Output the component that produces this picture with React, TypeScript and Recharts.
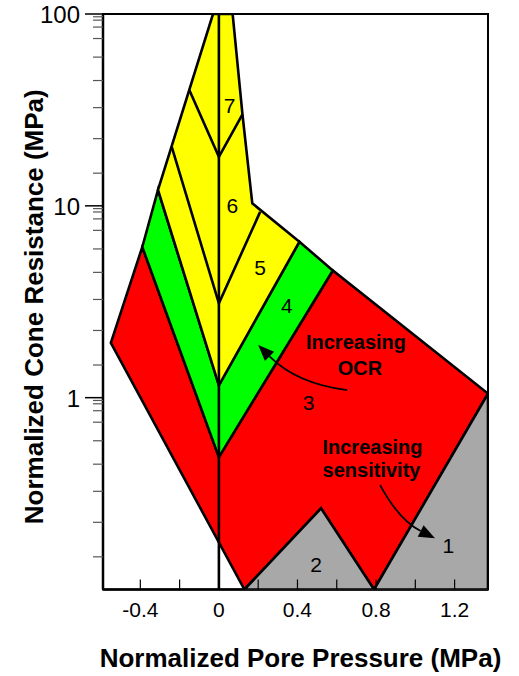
import { ScatterChart, Scatter, XAxis, YAxis, Label, ReferenceArea } from 'recharts';

const FONT = '"Liberation Sans", Arial, Helvetica, sans-serif';

const xTitle = 'Normalized Pore Pressure (MPa)';
const yTitle = 'Normalized Cone Resistance (MPa)';

const xDomain = [-0.59, 1.37];
const yDomain = [0.1, 100];
const xTicks = [-0.4, -0.2, 0, 0.2, 0.4, 0.6, 0.8, 1, 1.2];
const xTickLabels = ['-0.4', '0', '0.4', '0.8', '1.2'];
const yMajorTicks = [1, 10, 100];
const yMinorTicks = [
  0.148, 0.224, 0.325, 0.45, 0.596, 0.745, 0.855, 0.929, 0.967,
  1.48, 2.24, 3.25, 4.5, 5.96, 7.45, 8.55, 9.29, 9.67,
  14.8, 22.4, 32.5, 45, 59.6, 74.5, 85.5, 92.9, 96.7,
];

// zone outlines (x = pore pressure, y = cone resistance)
const zone3 = [
  { x: -0.55, y: 1.93 }, { x: -0.39, y: 6.1 }, { x: 0, y: 0.49 }, { x: 0.58, y: 4.6 },
  { x: 1.37, y: 1.05 }, { x: 0.79, y: 0.1 }, { x: 0.52, y: 0.265 }, { x: 0.13, y: 0.1 },
];
const zone4 = [
  { x: -0.39, y: 6.1 }, { x: -0.31, y: 12.1 }, { x: 0, y: 1.16 },
  { x: 0.41, y: 6.5 }, { x: 0.58, y: 4.6 }, { x: 0, y: 0.49 },
];
const zone567 = [
  { x: -0.31, y: 12.1 }, { x: -0.03, y: 100 }, { x: 0.07, y: 100 }, { x: 0.12, y: 30 },
  { x: 0.17, y: 10.3 }, { x: 0.41, y: 6.5 }, { x: 0, y: 1.16 },
];
const zone1 = [{ x: 0.79, y: 0.1 }, { x: 1.37, y: 1.05 }, { x: 1.37, y: 0.1 }];
const zone2 = [{ x: 0.13, y: 0.1 }, { x: 0.52, y: 0.265 }, { x: 0.79, y: 0.1 }];

const border56 = [{ x: -0.24, y: 20.3 }, { x: 0, y: 3.1 }, { x: 0.21, y: 9.3 }];
const border67 = [{ x: -0.15, y: 40 }, { x: 0, y: 18 }, { x: 0.12, y: 30 }];
const centreLine = [{ x: 0, y: 0.1 }, { x: 0, y: 100 }];

const zoneLabels = [
  { x: 0.055, y: 30.5, text: '7' },
  { x: 0.068, y: 9.18, text: '6' },
  { x: 0.21, y: 4.36, text: '5' },
  { x: 0.346, y: 2.76, text: '4' },
  { x: 0.457, y: 0.863, text: '3' },
  { x: 0.495, y: 0.1238, text: '2' },
  { x: 1.168, y: 0.1545, text: '1' },
];
const noteLabels = [
  { x: 0.698, y: 1.794, text: 'Increasing' },
  { x: 0.718, y: 1.313, text: 'OCR' },
  { x: 0.782, y: 0.507, text: 'Increasing' },
  { x: 0.777, y: 0.384, text: 'sensitivity' },
];

// start, control, tip
const ocrArrow = [{ x: 0.653, y: 1.096 }, { x: 0.398, y: 1.18 }, { x: 0.2, y: 1.88 }];
const sensArrow = [{ x: 0.82, y: 0.351 }, { x: 0.917, y: 0.23 }, { x: 1.1, y: 0.185 }];

const noDot = () => <g />;

const polygonLine = (fill: string) => (props: any) => {
  const pts = props.points as { x: number; y: number }[];
  const d = pts.map((p, i) => `${i ? 'L' : 'M'}${p.x},${p.y}`).join('') + 'Z';
  return <path d={d} fill={fill} stroke="#000" strokeWidth={2.6} />;
};

const polyline = (props: any) => {
  const pts = props.points as { x: number; y: number }[];
  const d = pts.map((p, i) => `${i ? 'L' : 'M'}${p.x},${p.y}`).join('');
  return <path d={d} fill="none" stroke="#000" strokeWidth={2.6} />;
};

const arrowLine = (props: any) => {
  const [a, c, b] = props.points as { x: number; y: number }[];
  const dx = b.x - c.x;
  const dy = b.y - c.y;
  const len = Math.hypot(dx, dy) || 1;
  const ux = dx / len;
  const uy = dy / len;
  const head = 16;
  const half = 6.5;
  const bx = b.x - ux * head;
  const by = b.y - uy * head;
  return (
    <g>
      <path d={`M${a.x},${a.y}Q${c.x},${c.y} ${bx},${by}`} fill="none" stroke="#000" strokeWidth={1.8} />
      <path d={`M${b.x},${b.y}L${bx - uy * half},${by + ux * half}L${bx + uy * half},${by - ux * half}Z`} fill="#000" />
    </g>
  );
};

const textShape = (bold: boolean) => (props: any) => (
  <text x={props.cx} y={props.cy} textAnchor="middle" fontSize={bold ? 20 : 21} fontWeight={bold ? 'bold' : 'normal'}
    fontFamily={FONT} fill="#000">
    {props.payload.text}
  </text>
);

function XTick({ x, y, payload }: any) {
  const label = xTickLabels.find(l => Math.abs(Number(l) - payload.value) < 1e-6);
  return (
    <g>
      <line x1={x} x2={x} y1={y} y2={y - 10} stroke="#000" strokeWidth={1.2} />
      {label !== undefined && (
        <text x={x} y={y + 27} textAnchor="middle" fontSize={21} fontFamily={FONT} fill="#000">{label}</text>
      )}
    </g>
  );
}

function YTick({ x, y, payload }: any) {
  const major = yMajorTicks.includes(payload.value);
  return (
    <g>
      <line x1={x - (major ? 18 : 10)} x2={x} y1={y} y2={y} stroke={major ? '#000' : '#555'} strokeWidth={major ? 1.5 : 1.2} />
      {major && (
        <text x={x - 23} y={y + 9} textAnchor="end" fontSize={24} fontFamily={FONT} fill="#000">{payload.value}</text>
      )}
    </g>
  );
}

const renderXTitle = (props: any) => {
  const vb = props.viewBox;
  return (
    <text x={vb.x + vb.width / 2 + 5} y={vb.y + 77.5} textAnchor="middle" fontSize={26} fontWeight="bold" fontFamily={FONT} fill="#000">
      {xTitle}
    </text>
  );
};

const renderYTitle = (props: any) => {
  const vb = props.viewBox;
  const cx = 43;
  const cy = vb.y + vb.height / 2 + 5;
  return (
    <text x={cx} y={cy} transform={`rotate(-90, ${cx}, ${cy})`} textAnchor="middle" fontSize={26} fontWeight="bold" fontFamily={FONT} fill="#000">
      {yTitle}
    </text>
  );
};

export default function App() {
  return (
    <div style={{ position: 'absolute', left: 0, top: 0, background: '#fff' }}>
      <ScatterChart width={519} height={676} margin={{ top: 14, right: 31, bottom: 0, left: 0 }} style={{ fontFamily: FONT }}>
        <XAxis
          type="number"
          dataKey="x"
          domain={xDomain}
          allowDataOverflow
          ticks={xTicks}
          interval={0}
          tick={<XTick />}
          tickLine={false}
          tickSize={0}
          tickMargin={0}
          height={86.5}
          axisLine={{ stroke: '#000', strokeWidth: 2.5 }}
        >
          <Label content={renderXTitle} />
        </XAxis>
        <YAxis
          type="number"
          dataKey="y"
          scale="log"
          domain={yDomain}
          allowDataOverflow
          ticks={[...yMinorTicks, ...yMajorTicks]}
          interval={0}
          tick={<YTick />}
          tickLine={false}
          tickSize={0}
          tickMargin={0}
          width={103}
          axisLine={{ stroke: '#000', strokeWidth: 2.5 }}
        >
          <Label content={renderYTitle} />
        </YAxis>
        <ReferenceArea x1={xDomain[0]} x2={xDomain[1]} y1={yDomain[0]} y2={yDomain[1]} fill="none" fillOpacity={0} stroke="#000" strokeWidth={2} />
        <Scatter data={zone3} line={polygonLine('#FF0000')} shape={noDot} isAnimationActive={false} />
        <Scatter data={zone4} line={polygonLine('#00FF00')} shape={noDot} isAnimationActive={false} />
        <Scatter data={zone567} line={polygonLine('#FFFF00')} shape={noDot} isAnimationActive={false} />
        <Scatter data={zone1} line={polygonLine('#A8A8A8')} shape={noDot} isAnimationActive={false} />
        <Scatter data={zone2} line={polygonLine('#A8A8A8')} shape={noDot} isAnimationActive={false} />
        <Scatter data={border56} line={polyline} shape={noDot} isAnimationActive={false} />
        <Scatter data={border67} line={polyline} shape={noDot} isAnimationActive={false} />
        <Scatter data={centreLine} line={polyline} shape={noDot} isAnimationActive={false} />
        <Scatter data={ocrArrow} line={arrowLine} shape={noDot} isAnimationActive={false} />
        <Scatter data={sensArrow} line={arrowLine} shape={noDot} isAnimationActive={false} />
        <Scatter data={zoneLabels} shape={textShape(false)} isAnimationActive={false} />
        <Scatter data={noteLabels} shape={textShape(true)} isAnimationActive={false} />
      </ScatterChart>
    </div>
  );
}
